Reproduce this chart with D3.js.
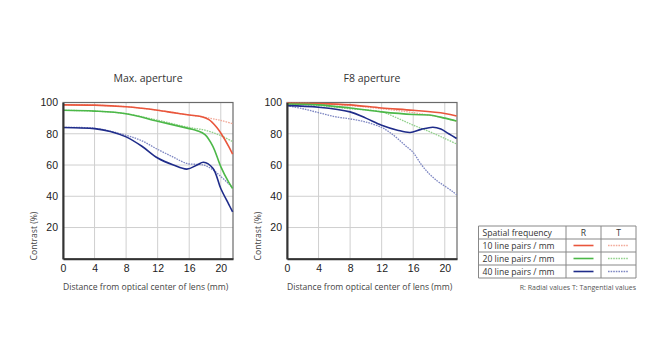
<!DOCTYPE html>
<html>
<head>
<meta charset="utf-8">
<script src="https://cdn.jsdelivr.net/npm/d3@7"></script>
<style>
  body { margin: 0; background: #fff; }
  svg { display: block; font-family: "Open Sans", "DejaVu Sans", sans-serif; }
</style>
</head>
<body>
<svg id="chart" width="660" height="363"></svg>
<script>
// tick labels
var xTicks = [0, 4, 8, 12, 16, 20];
var yTicks = [20, 40, 60, 80, 100];

// Max. aperture (mm, contrast %)
var maxR10 = [[0,98.5],[4,98.3],[8,97.3],[10,96.3],[12,95],[14,93.5],[16,92],[17.5,91],[18.5,89],[19.5,84],[20,80.5],[21,72],[21.5,67]];
var maxT10 = [[0,98.5],[4,98.3],[8,97.3],[10,96.3],[12,95],[14,93.5],[16,92],[18,90.5],[20,88.5],[21.5,86.5]];
var maxR20 = [[0,95],[4,94.5],[8,92.8],[12,88],[16,83.3],[17,82],[18,79.5],[19,72],[20,59],[21,49],[21.5,45]];
var maxT20 = [[0,95],[4,94.5],[8,92.8],[12,88.7],[16,84],[18,82.3],[20,78.8],[21.5,75]];
var maxR40 = [[0,84],[4,83.3],[6,81.5],[8,78],[10,72],[12,64.5],[14,60],[15.7,57.4],[17,60],[17.8,61.8],[19,58],[20,45],[21,35],[21.5,30]];
var maxT40 = [[0,84],[4,83.5],[8,79],[10,75.5],[12,70],[14,65],[15.7,61],[17.8,60],[19,57],[20,52.7],[21,48],[21.5,45.5]];

// F8 aperture
var f8R10 = [[0,99.5],[4,99.3],[8,98.5],[12,96.5],[16,95],[20,93],[21.5,91.4]];
var f8T10 = [[0,99.5],[4,99.2],[8,98],[12,96],[16,93.5],[20,90],[21.5,88]];
var f8R20 = [[0,99],[4,98.5],[8,96.5],[12,94],[16,92.3],[18,92],[20,90],[21.5,88.2]];
var f8T20 = [[0,99],[4,98],[8,96],[12,94],[14,90],[16,85.5],[18,81.5],[20,77],[21.5,73.5]];
var f8R40 = [[0,98],[4,97],[8,94],[10,90],[12,85.5],[14,82.3],[15.6,80.8],[17,82.8],[18.5,84.2],[19.5,83],[20.5,80],[21.5,77]];
var f8T40 = [[0,98],[2,96],[4,93.5],[6,91],[8,89.5],[10,87.5],[12,84],[13,81],[14,77],[15,72.5],[16,68],[17,60.5],[18,54.5],[19,50],[20,46.5],[21,43],[21.5,41]];

var legendRows = ["10 line pairs / mm", "20 line pairs / mm", "40 line pairs / mm"];

var colR = ["#e9563c", "#4cb848", "#1f2c8a"];
var colT = ["#f2aa9a", "#92d18c", "#7d86c2"];

var svg = d3.select("#chart");

var panels = [
  {title: "Max. aperture", left: 63, series: [maxR10, maxT10, maxR20, maxT20, maxR40, maxT40]},
  {title: "F8 aperture", left: 287, series: [f8R10, f8T10, f8R20, f8T20, f8R40, f8T40]}
];

var plotTop = 102.5, plotBottom = 258.8, plotW = 170;

panels.forEach(function(p){
  var x = d3.scaleLinear().domain([0, 21.55]).range([p.left, p.left + plotW]);
  var y = d3.scaleLinear().domain([0, 100]).range([plotBottom, plotTop]);
  var g = svg.append("g");

  // grid
  g.selectAll(".gx").data(xTicks.slice(1)).enter().append("line")
    .attr("x1", function(d){ return x(d); }).attr("x2", function(d){ return x(d); })
    .attr("y1", plotTop).attr("y2", plotBottom)
    .attr("stroke", "#cfcfcf").attr("stroke-width", 1);
  g.selectAll(".gy").data(yTicks).enter().append("line")
    .attr("x1", p.left).attr("x2", p.left + plotW)
    .attr("y1", function(d){ return y(d); }).attr("y2", function(d){ return y(d); })
    .attr("stroke", "#cfcfcf").attr("stroke-width", 1);

  // border
  g.append("rect").attr("x", p.left).attr("y", plotTop).attr("width", plotW).attr("height", plotBottom - plotTop)
    .attr("fill", "none").attr("stroke", "#6a6a6a").attr("stroke-width", 1.2);

  var line = d3.line()
    .x(function(d){ return x(d[0]); })
    .y(function(d){ return y(d[1]); })
    .curve(d3.curveCatmullRom.alpha(0.5));

  // tangential first (dotted), radial on top
  [1, 3, 5, 0, 2, 4].forEach(function(i){
    var k = Math.floor(i / 2);
    var isT = i % 2 == 1;
    g.append("path").datum(p.series[i])
      .attr("d", line)
      .attr("fill", "none")
      .attr("stroke", isT ? colT[k] : colR[k])
      .attr("stroke-width", isT ? 1.3 : 1.6)
      .attr("stroke-dasharray", isT ? "1.6,1" : null);
  });

  // axes (left + bottom heavier)
  var ax = d3.axisBottom(x).tickValues(xTicks).tickSize(0).tickPadding(6);
  var axg = g.append("g").attr("transform", "translate(0," + plotBottom + ")").call(ax);
  axg.select(".domain").attr("stroke", "#333").attr("stroke-width", 2);
  axg.selectAll("text").attr("font-size", "10.5px").attr("fill", "#222");

  var ay = d3.axisLeft(y).tickValues(yTicks).tickSize(0).tickPadding(5);
  var ayg = g.append("g").attr("transform", "translate(" + p.left + ",0)").call(ay);
  ayg.select(".domain").attr("stroke", "#333").attr("stroke-width", 2);
  ayg.selectAll("text").attr("font-size", "10.5px").attr("fill", "#222");

  svg.append("text").attr("x", p.left + 85).attr("y", 82).attr("text-anchor", "middle")
    .attr("font-size", "10.5px").attr("fill", "#333").text(p.title);

  svg.append("text").attr("x", p.left).attr("y", 290).attr("text-anchor", "start")
    .attr("font-size", "8.6px").attr("fill", "#444").text("Distance from optical center of lens (mm)");

  svg.append("text").attr("transform", "translate(" + (p.left - 26) + ",236) rotate(-90)")
    .attr("text-anchor", "middle").attr("font-size", "8.6px").attr("fill", "#444").text("Contrast (%)");
});

// legend table
var lx = 478.5, lw = [87.5, 35, 35], ly = 226, rh = 13;
var cols = [lx, lx + lw[0], lx + lw[0] + lw[1], lx + lw[0] + lw[1] + lw[2]];
var leg = svg.append("g");
var rowsY = d3.range(5).map(function(i){ return ly + i * rh; });
leg.selectAll(".hl").data(rowsY).enter().append("line")
  .attr("x1", cols[0]).attr("x2", cols[3])
  .attr("y1", function(d){ return d; }).attr("y2", function(d){ return d; })
  .attr("stroke", "#888").attr("stroke-width", 1);
leg.selectAll(".vl").data(cols).enter().append("line")
  .attr("x1", function(d){ return d; }).attr("x2", function(d){ return d; })
  .attr("y1", rowsY[0]).attr("y2", rowsY[4])
  .attr("stroke", "#888").attr("stroke-width", 1);

leg.append("text").attr("x", lx + 4).attr("y", ly + 9.6).attr("font-size", "8.6px").attr("fill", "#333").text("Spatial frequency");
leg.append("text").attr("x", (cols[1] + cols[2]) / 2).attr("y", ly + 9.6).attr("text-anchor", "middle").attr("font-size", "8.6px").attr("fill", "#333").text("R");
leg.append("text").attr("x", (cols[2] + cols[3]) / 2).attr("y", ly + 9.6).attr("text-anchor", "middle").attr("font-size", "8.6px").attr("fill", "#333").text("T");

legendRows.forEach(function(r, i){
  var yy = ly + (i + 1) * rh;
  leg.append("text").attr("x", lx + 4).attr("y", yy + 9.6).attr("font-size", "8.6px").attr("fill", "#333").text(r);
  leg.append("line").attr("x1", cols[1] + 7.5).attr("x2", cols[2] - 7.5).attr("y1", yy + 6.5).attr("y2", yy + 6.5)
    .attr("stroke", colR[i]).attr("stroke-width", 1.6);
  leg.append("line").attr("x1", cols[2] + 7).attr("x2", cols[3] - 8).attr("y1", yy + 6.5).attr("y2", yy + 6.5)
    .attr("stroke", colT[i]).attr("stroke-width", 1.4).attr("stroke-dasharray", "1.6,1");
});

svg.append("text").attr("x", cols[3]).attr("y", 290).attr("text-anchor", "end")
  .attr("font-size", "7px").attr("fill", "#555").text("R: Radial values  T: Tangential values");
</script>
</body>
</html>
